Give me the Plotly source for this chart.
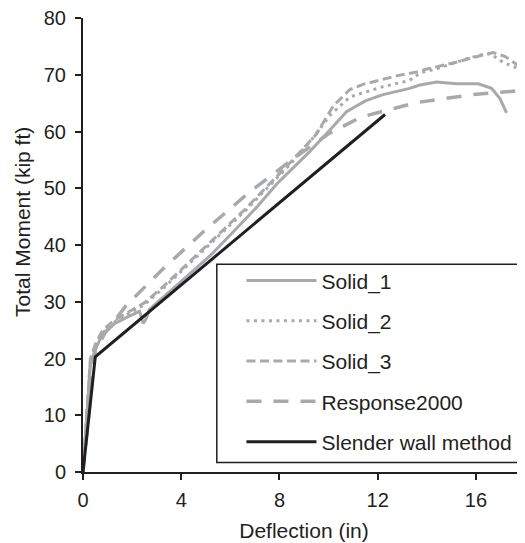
import plotly.graph_objects as go

# ---- data ----
solid1_x = [0, 0.3, 0.5, 0.75, 1.0, 1.3, 1.8, 2.3, 2.45, 2.55, 2.7, 3.0, 3.9, 5.2, 6.6, 7.1, 7.9, 9.24, 10.0, 10.73,
            11.5, 12.22, 13.3, 13.72, 14.4, 15.2, 16.1, 16.64, 16.98, 17.25]
solid1_y = [0, 19.0, 21.5, 24.0, 25.0, 26.2, 27.3, 28.3, 26.2, 26.8, 28.6, 29.8, 33.2, 38.2, 44.5, 46.8, 50.8, 56.5, 60.0, 63.5,
            65.4, 66.5, 67.6, 68.2, 68.7, 68.4, 68.4, 67.6, 65.8, 63.3]

solid2_x = [0, 0.3, 0.5, 0.8, 1.3, 2.0, 2.5, 3.3, 4.5, 5.5, 6.6, 7.5, 8.5, 9.3, 10.05, 10.87, 12.22, 13.3, 13.72,
            14.5, 15.08, 15.76, 16.3, 16.6, 17.1, 17.66, 18.0]
solid2_y = [0, 19.5, 22.0, 24.5, 26.5, 28.3, 29.5, 32.5, 37.5, 41.5, 46.0, 50.0, 54.5, 58.5, 62.8, 66.1, 67.9, 69.0, 70.3,
            71.2, 72.0, 73.0, 73.6, 73.7, 72.2, 71.2, 70.0]

solid3_x = [0, 0.3, 0.5, 0.8, 1.3, 2.0, 2.5, 3.3, 4.5, 5.5, 6.6, 7.5, 8.5, 9.5, 10.19, 10.87, 11.4, 12.77, 13.6,
            14.0, 15.2, 16.2, 16.7, 17.2, 17.6, 18.0]
solid3_y = [0, 20.0, 22.5, 25.0, 26.8, 28.5, 29.8, 32.8, 37.8, 41.8, 46.3, 50.3, 54.8, 59.5, 64.5, 67.4, 68.3, 69.8, 70.5,
            71.0, 72.2, 73.4, 73.9, 73.2, 72.0, 70.8]

resp_x = [0, 0.5, 0.9, 1.77, 3.26, 4.89, 6.72, 8.5, 10.0, 11.3, 12.5, 13.6, 14.7, 15.9, 17.0, 18.0]
resp_y = [0, 21.5, 24.5, 29.4, 35.8, 42.3, 49.1, 55.0, 59.6, 62.5, 63.9, 65.1, 65.8, 66.5, 66.9, 67.3]

slender_x = [0, 0.5, 12.3]
slender_y = [0, 20.3, 63.0]

x_ticks = [0, 4, 8, 12, 16]
y_ticks = [0, 10, 20, 30, 40, 50, 60, 70, 80]

GRAY = "#A7A9AC"
DARK = "#231F20"
FONT = "Liberation Sans, Arial, sans-serif"

fig = go.Figure()
fig.add_trace(go.Scatter(x=solid1_x, y=solid1_y, mode="lines", name="Solid_1", legendgroup="a",
                         line=dict(color=GRAY, width=3)))
fig.add_trace(go.Scatter(x=solid2_x, y=solid2_y, mode="lines", name="Solid_2", legendgroup="b",
                         line=dict(color=GRAY, width=3, dash="3px,4.5px")))
fig.add_trace(go.Scatter(x=solid3_x, y=solid3_y, mode="lines", name="Solid_3", legendgroup="c",
                         line=dict(color=GRAY, width=3, dash="9px,4.5px")))
fig.add_trace(go.Scatter(x=resp_x, y=resp_y, mode="lines", name="Response2000", legendgroup="d",
                         line=dict(color=GRAY, width=3.5, dash="15px,12px")))
fig.add_trace(go.Scatter(x=slender_x, y=slender_y, mode="lines", name="Slender wall method", legendgroup="e",
                         line=dict(color=DARK, width=3)))

fig.update_layout(
    template="none",
    width=517, height=535,
    margin=dict(l=75, r=0, t=10, b=71, autoexpand=False),
    paper_bgcolor="white", plot_bgcolor="white",
    font=dict(family=FONT, size=20, color=DARK),
    showlegend=True,
    legend=dict(x=0.3585, y=0.4663, xanchor="left", yanchor="top",
                bgcolor="rgba(0,0,0,0)", borderwidth=0,
                font=dict(size=21, color=DARK), itemwidth=70,
                tracegroupgap=10),
    shapes=[dict(type="rect", xref="paper", yref="paper",
                 x0=0.3027, x1=0.9932, y0=0.021, y1=0.4575,
                 line=dict(color=DARK, width=1.5), fillcolor="white", layer="below")],
    xaxis=dict(range=[0, 18], tickvals=x_ticks, showgrid=False, zeroline=False, automargin=False,
               showline=True, linecolor=DARK, linewidth=2, ticks="outside",
               ticklen=6, tickwidth=2, tickcolor=DARK, ticklabelstandoff=3,
               ticklabeloverflow="allow",
               title=dict(text="Deflection (in)", font=dict(size=21), standoff=13)),
    yaxis=dict(range=[0, 80], tickvals=y_ticks, showgrid=False, zeroline=False, automargin=False,
               showline=True, linecolor=DARK, linewidth=2, ticks="outside",
               ticklen=6, tickwidth=2, tickcolor=DARK, ticklabelstandoff=5,
               ticklabeloverflow="allow"),
    annotations=[dict(text="Total Moment (kip ft)", xref="paper", yref="paper",
                      x=-0.1365, y=0.55, xanchor="center", yanchor="middle",
                      textangle=-90, showarrow=False, font=dict(size=21))],
)

fig.write_html("out.html")
